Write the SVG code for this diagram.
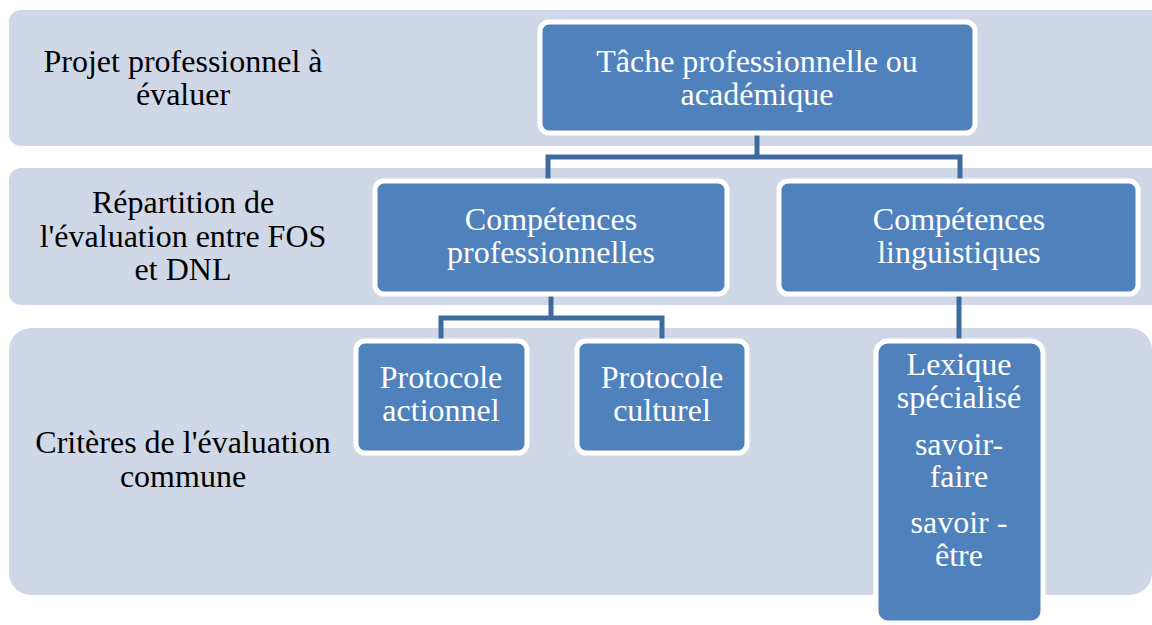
<svg xmlns="http://www.w3.org/2000/svg" width="1152" height="625" viewBox="0 0 1152 625">
<style>
.band{fill:#d0d8e8;}
.box{fill:#4f81bd;stroke:#ffffff;stroke-width:5;}
.con{fill:none;stroke:#3e6aa0;stroke-width:5;stroke-linejoin:miter;}
</style>
<rect width="1152" height="625" fill="#ffffff"/>
<g id="bands">
<rect class="band" x="9" y="10" width="1160" height="136" rx="12"/>
<rect class="band" x="9" y="168" width="1160" height="137" rx="12"/>
<rect class="band" x="9" y="328" width="1143" height="267" rx="22"/>
</g>
<g id="labels" font-family="Liberation Serif, serif" font-size="32" text-anchor="middle" fill="#000000">
<text x="183" y="72">Projet professionnel à</text>
<text x="183" y="105">évaluer</text>
<text x="183" y="213">Répartition de</text>
<text x="183" y="247">l'évaluation entre FOS</text>
<text x="183" y="280">et DNL</text>
<text x="183" y="453">Critères de l'évaluation</text>
<text x="183" y="487">commune</text>
</g>
<g id="connectors">
<path class="con" d="M757,133 V157 M548,182 V157 H960 V182"/>
<path class="con" d="M551,295 V318 M441,342 V318 H662 V342"/>
<path class="con" d="M959,295 V342"/>
</g>
<g font-family="Liberation Serif, serif" font-size="32" text-anchor="middle" fill="#ffffff">
<g id="n-tache">
<rect class="box" x="540" y="22" width="435" height="111" rx="9"/>
<text x="757" y="72">Tâche professionnelle ou</text>
<text x="757" y="105">académique</text>
</g>
<g id="n-comp-pro">
<rect class="box" x="375" y="181" width="352" height="113" rx="9"/>
<text x="551" y="230">Compétences</text>
<text x="551" y="263">professionnelles</text>
</g>
<g id="n-comp-ling">
<rect class="box" x="779" y="181" width="359" height="113" rx="9"/>
<text x="959" y="230">Compétences</text>
<text x="959" y="263">linguistiques</text>
</g>
<g id="n-proto-act">
<rect class="box" x="356" y="341" width="171" height="112" rx="9"/>
<text x="441" y="388">Protocole</text>
<text x="441" y="421">actionnel</text>
</g>
<g id="n-proto-cult">
<rect class="box" x="577" y="341" width="170" height="112" rx="9"/>
<text x="662" y="388">Protocole</text>
<text x="662" y="421">culturel</text>
</g>
<g id="n-lexique">
<rect class="box" x="876" y="341" width="167" height="282" rx="12"/>
<text x="959" y="375">Lexique</text>
<text x="959" y="408">spécialisé</text>
<text x="959" y="455">savoir-</text>
<text x="959" y="487">faire</text>
<text x="959" y="533">savoir -</text>
<text x="959" y="566">être</text>
</g>
</g>
</svg>
